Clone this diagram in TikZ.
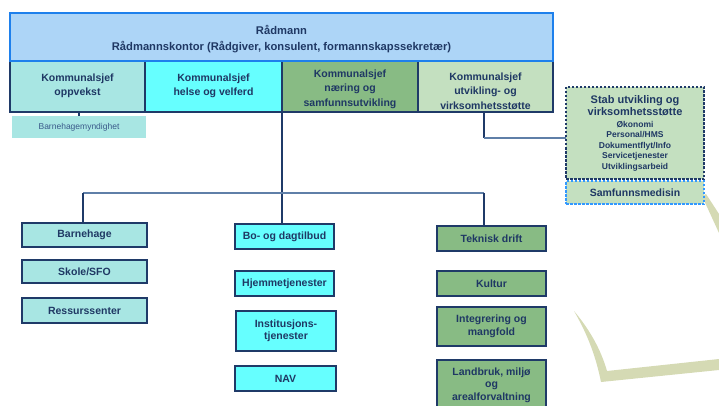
\documentclass[tikz,border=0pt]{standalone}
\usepackage{fontspec}
\setmainfont{Liberation Sans}
\definecolor{navy}{HTML}{1F3A68}
\definecolor{txt}{HTML}{1F3864}
\definecolor{topfill}{HTML}{ADD5F7}
\definecolor{topborder}{HTML}{1E80EC}
\definecolor{teal}{HTML}{A8E6E3}
\definecolor{cyanb}{HTML}{66FFFF}
\definecolor{greenb}{HTML}{88BB84}
\definecolor{lgreen}{HTML}{C4E0C0}
\definecolor{dashblue}{HTML}{3399FF}
\definecolor{connlightc}{HTML}{5F7FA8}
\definecolor{swoosh}{HTML}{D5DAB4}
\definecolor{mynd}{HTML}{3A5A8A}
\begin{document}
\begin{tikzpicture}[x=1pt,y=-1pt,
  every node/.style={inner sep=0pt, outer sep=0pt, text=txt, align=center},
  bigfont/.style={font=\fontsize{10.5}{14.5}\selectfont\bfseries},
  boxfont/.style={font=\fontsize{10.5}{12.5}\selectfont\bfseries},
  rowbox/.style={draw=navy, line width=1.5pt, bigfont},
  unitbox/.style={draw=navy, line width=1.8pt, boxfont},
  conn/.style={draw=navy, line width=1.5pt},
  connlight/.style={draw=connlightc, line width=1.5pt}
]
\useasboundingbox (0,0) rectangle (719,406);
\clip (0,0) rectangle (719,406);

% background swoosh
\fill[swoosh] (702,196) -- (706,194) -- (719,214) -- (719,233) -- cycle;
\fill[swoosh] (574,311) .. controls (590,330) and (601,350) .. (607,371)
  -- (719,359) -- (719,370) -- (601,382)
  .. controls (595,352) and (585,330) .. (574,311) -- cycle;

% row of heads
\node[rowbox, fill=teal, minimum width=135pt, minimum height=51pt] (oppvekst) at (77.5,86.5) {};
\node[bigfont] (oppvekstT) at (77.5,86) {Kommunalsjef\\oppvekst};
\node[rowbox, fill=cyanb, minimum width=137pt, minimum height=51pt] (helse) at (213.5,86.5) {};
\node[bigfont] (helseT) at (213.5,86) {Kommunalsjef\\helse og velferd};
\node[rowbox, fill=greenb, minimum width=136pt, minimum height=51pt] (naering) at (350,86.5) {};
\node[bigfont] (naeringT) at (350,89) {Kommunalsjef\\næring og\\samfunnsutvikling};
\node[rowbox, fill=lgreen, minimum width=135pt, minimum height=51pt] (utv) at (485.5,86.5) {};
\node[bigfont] (utvT) at (485.5,91) {Kommunalsjef\\utvikling- og\\virksomhetsstøtte};

% top box
\node[draw=topborder, line width=1.8pt, fill=topfill, minimum width=543pt, minimum height=48pt] (radmann) at (281.5,37) {};
\node[font=\fontsize{11.2}{16}\selectfont\bfseries] (radmannT) at (281.5,39) {Rådmann\\Rådmannskontor (Rådgiver, konsulent, formannskapssekretær)};

% Barnehagemyndighet
\node[fill=teal, minimum width=134pt, minimum height=22pt, text=mynd, font=\fontsize{8.5}{10}\selectfont] (bm) at (79,127) {Barnehagemyndighet};

% stab
\node[draw=navy, dashed, dash pattern=on 2.5pt off 1.5pt, line width=1.3pt, fill=lgreen, minimum width=138pt, minimum height=92pt] (stab) at (635,133) {};
\node[font=\fontsize{11}{12}\selectfont\bfseries] (stabT) at (635,106) {Stab utvikling og\\virksomhetsstøtte};
\node[font=\fontsize{8.5}{10.5}\selectfont\bfseries] (stabL) at (635,146) {Økonomi\\Personal/HMS\\Dokumentflyt/Info\\Servicetjenester\\Utviklingsarbeid};
\node[draw=dashblue, dashed, dash pattern=on 2.5pt off 1.5pt, line width=1.3pt, fill=lgreen, minimum width=138pt, minimum height=23pt, boxfont] (samf) at (635,192.5) {Samfunnsmedisin};

% bottom units
\node[unitbox, fill=teal, minimum width=125pt, minimum height=24pt] (barnehage) at (84.5,235) {Barnehage};
\node[unitbox, fill=teal, minimum width=125pt, minimum height=23pt] (skole) at (84.5,271.5) {Skole/SFO};
\node[unitbox, fill=teal, minimum width=125pt, minimum height=25pt] (ress) at (84.5,310.5) {Ressurssenter};

\node[unitbox, fill=cyanb, minimum width=99pt, minimum height=25pt] (bo) at (284.5,236.5) {Bo- og dagtilbud};
\node[unitbox, fill=cyanb, minimum width=99pt, minimum height=25pt] (hjem) at (284.5,283.5) {Hjemmetjenester};
\node[unitbox, fill=cyanb, minimum width=100pt, minimum height=40pt] (inst) at (286,331) {Institusjons-\\tjenester};
\node[unitbox, fill=cyanb, minimum width=101pt, minimum height=25pt] (nav) at (285.5,378.5) {NAV};

\node[unitbox, fill=greenb, minimum width=109pt, minimum height=25pt] (teknisk) at (491.5,238.5) {Teknisk drift};
\node[unitbox, fill=greenb, minimum width=109pt, minimum height=25pt] (kultur) at (491.5,283.5) {Kultur};
\node[unitbox, fill=greenb, minimum width=109pt, minimum height=39pt] (integ) at (491.5,326.5) {Integrering og\\mangfold};
\node[unitbox, fill=greenb, minimum width=109pt, minimum height=56pt] (landbruk) at (491.5,388) {};
\node[boxfont] (landbrukT) at (491.5,385) {Landbruk, miljø\\og\\arealforvaltning};

% connectors
\draw[conn] (bm.north) -- (bm.north |- oppvekst.south);
\draw[conn] (helse.south east) -- (helse.south east |- bo.north);
\coordinate (hl) at (83,193);
\coordinate (hr) at (484,193);
\draw[connlight] (hl) -- (hr);
\draw[conn] (hl) -- (hl |- barnehage.north);
\draw[conn] (hr) -- (hr |- teknisk.north);
\coordinate (sj) at (566,138);
\coordinate (uj) at (484,112);
\draw[conn] (uj) -- (uj |- sj);
\draw[connlight] (uj |- sj) -- (sj);
\end{tikzpicture}
\end{document}
